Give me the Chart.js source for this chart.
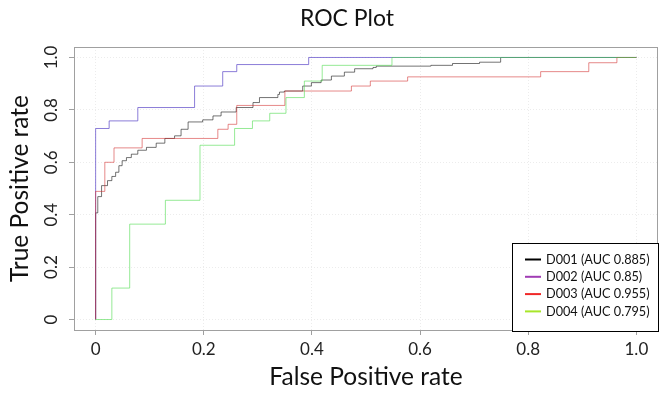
<!DOCTYPE html>
<html>
<head>
    <meta charset="UTF-8">
    <title>ROC Plot</title>
    <script src="https://cdn.jsdelivr.net/npm/chart.js@4/dist/chart.umd.min.js"></script>
    <style>
        body { margin: 0; background: #fff; }
        #wrap { width: 665px; height: 394px; }
    </style>
</head>
<body>
    <div id="wrap"><canvas id="myChart"></canvas></div>
    <script>

        // ROC corner points (false positive rate, true positive rate)
        var seriesNames = ['D001 (AUC 0.885)', 'D002 (AUC 0.85)', 'D003 (AUC 0.955)', 'D004 (AUC 0.795)'];

        var d001Fpr = [0, 0, 0.004, 0.011, 0.022, 0.03, 0.037, 0.043, 0.049, 0.057, 0.066, 0.078, 0.094, 0.112, 0.128, 0.146, 0.158, 0.171, 0.198, 0.217, 0.232, 0.26, 0.291, 0.303, 0.337, 0.34, 0.349, 0.383, 0.399, 0.417, 0.436, 0.46, 0.479, 0.513, 0.519, 0.62, 0.66, 0.71, 0.749, 1];
        var d001Tpr = [0, 0.407, 0.469, 0.511, 0.53, 0.546, 0.562, 0.587, 0.606, 0.618, 0.631, 0.646, 0.657, 0.673, 0.691, 0.701, 0.726, 0.754, 0.762, 0.777, 0.792, 0.809, 0.828, 0.847, 0.859, 0.868, 0.872, 0.891, 0.904, 0.914, 0.929, 0.944, 0.957, 0.962, 0.967, 0.97, 0.977, 0.982, 1, 1];

        var d002Fpr = [0, 0, 0.025, 0.078, 0.183, 0.235, 0.261, 0.394, 1];
        var d002Tpr = [0, 0.729, 0.758, 0.809, 0.891, 0.946, 0.973, 1, 1];

        var d003Fpr = [0, 0, 0.017, 0.034, 0.086, 0.226, 0.245, 0.261, 0.35, 0.473, 0.508, 0.577, 0.823, 0.912, 0.964, 1];
        var d003Tpr = [0, 0.489, 0.6, 0.655, 0.691, 0.726, 0.745, 0.817, 0.872, 0.891, 0.91, 0.926, 0.946, 0.98, 1, 1];

        var d004Fpr = [0, 0.03, 0.063, 0.129, 0.193, 0.257, 0.29, 0.322, 0.352, 0.386, 0.419, 0.548, 1];
        var d004Tpr = [0, 0.12, 0.364, 0.455, 0.665, 0.729, 0.758, 0.787, 0.847, 0.91, 0.97, 1, 1];

        var tickValues = [0, 0.2, 0.4, 0.6, 0.8, 1];
        var xTickLabels = ['0', '0.2', '0.4', '0.6', '0.8', '1.0'];
        var yTickLabels = ['0', '0.2', '0.4', '0.6', '0.8', '1.0'];

        var lineColors = ['rgba(0,0,0,0.55)', 'rgba(90,70,200,0.7)', 'rgba(210,40,40,0.55)', 'rgba(80,220,80,0.6)'];
        var legendColors = ['#000000', '#a03cb4', '#f02828', '#a8e62a'];

        var FONT = 'Lato';

        function points(fpr, tpr) {
            return fpr.map((x, i) => ({ x: x, y: tpr[i] }));
        }

        var allFpr = [d001Fpr, d002Fpr, d003Fpr, d004Fpr];
        var allTpr = [d001Tpr, d002Tpr, d003Tpr, d004Tpr];

        var datasets = seriesNames.map((name, i) => ({
            label: name,
            data: points(allFpr[i], allTpr[i]),
            borderColor: lineColors[i],
            backgroundColor: lineColors[i],
            borderWidth: 1,
            pointRadius: 0,
            stepped: 'before',
            fill: false,
            order: 4 - i   // last series drawn on top, like the original
        }));

        function setTicks(scale) {
            scale.ticks = tickValues.map(v => ({ value: v }));
        }

        // frame, rotated y labels and legend box
        var extras = {
            id: 'extras',
            afterDatasetsDraw(chart) {
                var ctx = chart.ctx;
                var a = chart.chartArea;
                ctx.save();
                ctx.strokeStyle = '#a0a0a0';
                ctx.lineWidth = 1;
                ctx.strokeRect(a.left + 0.5, a.top + 0.5, a.right - a.left - 1, a.bottom - a.top);
                ctx.restore();
            },
            afterDraw(chart) {
                var ctx = chart.ctx;
                var ys = chart.scales.y;
                ctx.save();
                ctx.fillStyle = '#222';
                ctx.font = '17px ' + FONT;
                ctx.textAlign = 'center';
                ctx.textBaseline = 'middle';
                tickValues.forEach((v, i) => {
                    ctx.save();
                    ctx.translate(52, ys.getPixelForValue(v));
                    ctx.rotate(-Math.PI / 2);
                    ctx.fillText(yTickLabels[i], 0, 0);
                    ctx.restore();
                });

                // legend
                var bx = 512.5, by = 243.5, bw = 146, bh = 88;
                ctx.fillStyle = '#fff';
                ctx.fillRect(bx, by, bw, bh);
                ctx.strokeStyle = '#000';
                ctx.lineWidth = 1;
                ctx.strokeRect(bx, by, bw, bh);
                ctx.font = '12.7px ' + FONT;
                ctx.textAlign = 'left';
                chart.data.datasets.forEach((ds, i) => {
                    var y = 259.5 + i * 17.3;
                    ctx.strokeStyle = legendColors[i];
                    ctx.lineWidth = 2;
                    ctx.beginPath();
                    ctx.moveTo(525, y);
                    ctx.lineTo(541, y);
                    ctx.stroke();
                    ctx.fillStyle = '#111';
                    ctx.fillText(ds.label, 546, y);
                });
                ctx.restore();
            }
        };

        var gridOpts = {
            color: '#ececec',
            lineWidth: 1,
            tickColor: '#a0a0a0',
            tickLength: 5,
            tickBorderDash: []
        };

        var config = {
            type: 'line',
            data: { datasets: datasets },
            plugins: [extras],
            options: {
                responsive: true,
                maintainAspectRatio: false,
                animation: false,
                layout: { padding: { left: 36, right: 7, top: 0, bottom: 2 } },
                plugins: {
                    legend: { display: false },
                    tooltip: { enabled: false },
                    title: {
                        display: true,
                        text: 'ROC Plot',
                        color: '#111',
                        font: { family: FONT, size: 23, weight: 'normal' },
                        padding: { top: 5, bottom: 14.4 }
                    }
                },
                scales: {
                    x: {
                        type: 'linear',
                        min: -0.04,
                        max: 1.04,
                        afterBuildTicks: setTicks,
                        afterFit: s => { s.height = 62; },
                        grid: gridOpts,
                        border: { display: false, dash: [1, 2] },
                        ticks: {
                            color: '#222',
                            font: { family: FONT, size: 17 },
                            padding: 4,
                            maxRotation: 0,
                            callback: v => xTickLabels[tickValues.indexOf(v)]
                        },
                        title: {
                            display: true,
                            text: 'False Positive rate',
                            color: '#111',
                            font: { family: FONT, size: 24.5 },
                            padding: { top: 0, bottom: 0.3 }
                        }
                    },
                    y: {
                        type: 'linear',
                        min: -0.04,
                        max: 1.04,
                        afterBuildTicks: setTicks,
                        afterFit: s => { s.width = 38; },
                        grid: gridOpts,
                        border: { display: false, dash: [1, 2] },
                        ticks: { display: false },
                        title: {
                            display: true,
                            text: 'True Positive rate',
                            color: '#111',
                            font: { family: FONT, size: 24.5 },
                            padding: { top: -30.7, bottom: 0 }
                        }
                    }
                }
            }
        };

        var myChart = new Chart(document.getElementById('myChart'), config);
    </script>
</body>
</html>
